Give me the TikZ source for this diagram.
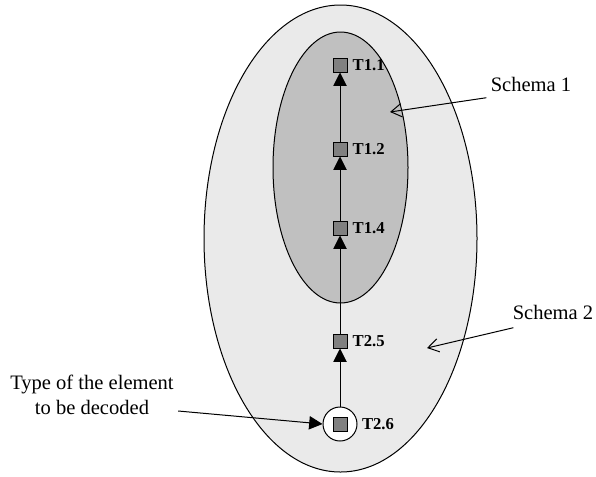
\documentclass[tikz,border=0pt]{standalone}
\usepackage{fontspec}
\setmainfont{Liberation Serif}
\usetikzlibrary{arrows.meta,positioning}
\definecolor{outerfill}{HTML}{EAEAEA}
\definecolor{innerfill}{HTML}{C0C0C0}
\definecolor{boxfill}{HTML}{808080}

\begin{document}
\begin{tikzpicture}[x=0.75pt,y=-0.75pt,line width=0.75pt]
\tikzset{
 elem/.style={draw,fill=boxfill,minimum size=10.5pt,inner sep=0pt},
 tlabel/.style={font=\fontsize{12.5}{14}\selectfont\bfseries,inner sep=0pt},
 note/.style={font=\fontsize{15.4}{19}\selectfont,inner sep=0pt,align=center},
 ring/.style={draw,fill=white,circle,minimum size=25.5pt,inner sep=0pt},
 up/.style={-{Triangle[length=10pt,width=10pt]}},
 pointer/.style={-{Straight Barb[length=8pt,width=10pt]}}
}
\useasboundingbox (0,0) rectangle (596,476);
% the two schemas
\filldraw[fill=outerfill] (340.5,238.5) ellipse [x radius=136.5,y radius=233.5];
\filldraw[fill=innerfill] (340.5,167.5) ellipse [x radius=67.5,y radius=135.5];
% the elements, bottom to top
\node[ring] (ring) at (340,424) {};
\node[elem] (t26) at (340,424) {};
\node[elem] (t25) at (340,341) {};
\node[elem] (t14) at (340,228) {};
\node[elem] (t12) at (340,149) {};
\node[elem] (t11) at (340,65) {};
\node[tlabel,right=3pt of ring] (l26) {T2.6};
\node[tlabel,right=3.5pt of t25] (l25) {T2.5};
\node[tlabel,right=3.5pt of t14] (l14) {T1.4};
\node[tlabel,right=3.5pt of t12] (l12) {T1.2};
\node[tlabel,right=3.5pt of t11] (l11) {T1.1};
\draw[up] (ring) -- (t25);
\draw[up] (t25) -- (t14);
\draw[up] (t14) -- (t12);
\draw[up] (t12) -- (t11);
% callouts
\node[note] (s1) at (531,84) {Schema 1};
\node[note] (s2) at (553,312) {Schema 2};
\node[note] (typ) at (92,395) {Type of the element\\to be decoded};
\coordinate (s1tip) at (390,112);
\coordinate (s2tip) at (427,348);
\draw[pointer] ([shift={(-4,6)}]s1.south west) -- (s1tip);
\draw[pointer] ([shift={(1,8)}]s2.south west) -- (s2tip);
\draw[up] ([shift={(4,16)}]typ.east) -- (ring.west);
\end{tikzpicture}
\end{document}
